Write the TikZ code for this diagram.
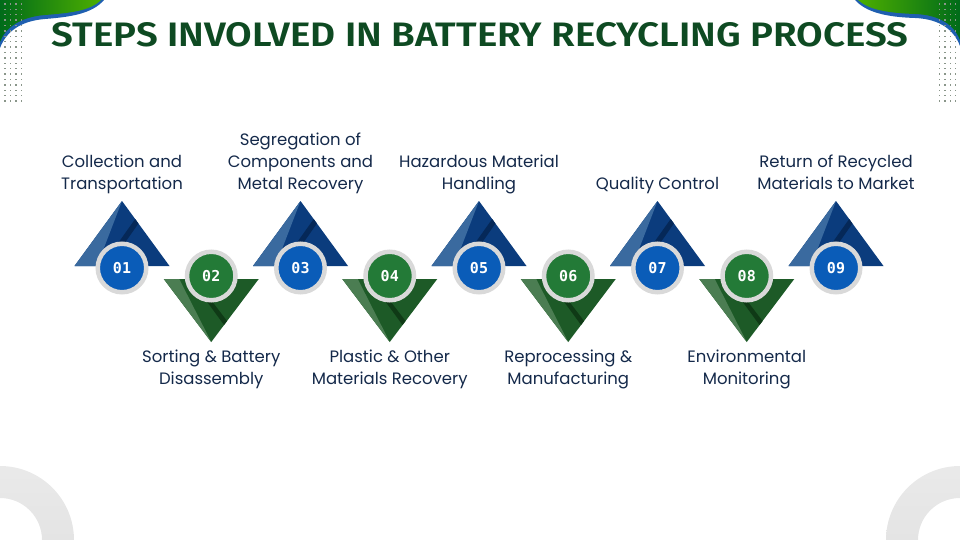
\documentclass[tikz,border=0pt]{standalone}
\usepackage{fontspec}
\setmainfont{Poppins}
\newfontfamily\numfont{DejaVu Sans Mono}
\newfontfamily\titlefont{Fira Sans SemiBold}
\usetikzlibrary{calc}

\definecolor{titlegreen}{HTML}{0E4A22}
\definecolor{txtcol}{HTML}{14294A}
\definecolor{tblue}{HTML}{0B3C7D}
\definecolor{tbluelight}{HTML}{3A6A9F}
\definecolor{tblueshadow}{HTML}{052858}
\definecolor{cblue}{HTML}{0A5CB8}
\definecolor{tgreen}{HTML}{1D5A27}
\definecolor{tgreenlight}{HTML}{4B7D52}
\definecolor{tgreenshadow}{HTML}{0F3A16}
\definecolor{cgreen}{HTML}{237A37}
\definecolor{ringgray}{HTML}{D9D9D9}
\definecolor{dotcol}{HTML}{8A968A}
\definecolor{arcgray}{HTML}{E4E4E4}
\definecolor{rimblue}{HTML}{1F5FB0}

\begin{document}
\begin{tikzpicture}[x=1pt,y=-1pt,
		lbl/.style={font=\fontsize{16.5}{22}\selectfont, text=txtcol, align=center, inner sep=0pt,
			execute at begin node=\strut, execute at end node=\strut},
		num/.style={circle, minimum size=48.5pt, inner sep=0pt, draw=ringgray, line width=4.5pt,
			text=white, font=\numfont\bfseries\fontsize{15}{15}\selectfont}]
	\useasboundingbox (0,0) rectangle (960,540);
	
	% corner decorations
	\fill[rimblue] (0,0) -- (104,0) .. controls (92,14) and (70,17) .. (45,19) .. controls (20,21) and (6,32) .. (0,48) -- cycle;
	\shade[left color=green!40!black!80!teal, right color=green!55!black!70!yellow] (0,0) -- (101,0) .. controls (90,11) and (70,13) .. (45,15) .. controls (20,17) and (5,28) .. (0,42) -- cycle;
	\fill[rimblue] (960,0) -- (855,0) .. controls (866,12) and (885,17) .. (915,18) .. controls (940,19) and (954,30) .. (960,46) -- cycle;
	\shade[right color=green!40!black!80!teal, left color=green!55!black!70!yellow] (960,0) -- (858,0) .. controls (868,9) and (885,13) .. (915,14) .. controls (940,15) and (954,25) .. (960,40) -- cycle;
	\foreach \row in {0,...,18} {
		\foreach \col in {0,...,3} {
			\fill[dotcol] (4.3+\col*5.4,3.3+\row*5.4) rectangle +(1.4,1.4);
			\fill[dotcol] (938.8+\col*5.4,3.3+\row*5.4) rectangle +(1.4,1.4);
		}
	}
	\shade[top color=arcgray!80, bottom color=arcgray] (0,466) arc[start angle=-90, end angle=0, radius=74] -- (42,540) arc[start angle=0, end angle=-90, radius=42] -- cycle;
	\shade[top color=arcgray!80, bottom color=arcgray] (960,466) arc[start angle=-90, end angle=-180, radius=74] -- (918,540) arc[start angle=-180, end angle=-90, radius=42] -- cycle;
	
	% title
	\node[text=titlegreen, inner sep=0pt] (title) at (480,35) {\resizebox{856pt}{24pt}{\titlefont STEPS INVOLVED IN BATTERY RECYCLING PROCESS}};
	
	% steps pointing up
	\foreach \step/\txt in {1/{Collection and\\Transportation}, 3/{Segregation of\\Components and\\Metal Recovery}, 5/{Hazardous Material\\Handling}, 7/{Quality Control}, 9/{Return of Recycled\\Materials to Market}} {
		\pgfmathsetmacro\px{122+(\step-1)*89.25}
		\begin{scope}[xshift=\px]
			\fill[tblue] (0,201) -- (47.5,266) -- (-47.5,266) -- cycle;
			\fill[tbluelight] (0,201) -- (-25,266) -- (-47.5,266) -- cycle;
			\fill[tblueshadow] (13.2,219) -- (16.4,223.5) -- (-2.5,250.5) -- (-6,246) -- cycle;
			\node[num, fill=cblue] (c\step) at (0,268) {0\step};
			\node[lbl, anchor=south] (l\step) at (0,196) {\txt};
		\end{scope}
	}
	
	% steps pointing down
	\foreach \step/\txt in {2/{Sorting \& Battery\\Disassembly}, 4/{Plastic \& Other\\Materials Recovery}, 6/{Reprocessing \&\\Manufacturing}, 8/{Environmental\\Monitoring}} {
		\pgfmathsetmacro\px{122+(\step-1)*89.25}
		\begin{scope}[xshift=\px]
			\fill[tgreen] (-47.5,279) -- (47.5,279) -- (0,342) -- cycle;
			\fill[tgreenlight] (-47.5,279) -- (-32,279) -- (0,342) -- cycle;
			\fill[tgreenshadow] (12.8,325) -- (15.8,321) -- (-1,299) -- (-4,302) -- cycle;
			\node[num, fill=cgreen] (c\step) at (0,276) {0\step};
			\node[lbl, anchor=north] (l\step) at (0,350) {\txt};
		\end{scope}
	}
\end{tikzpicture}
\end{document}
